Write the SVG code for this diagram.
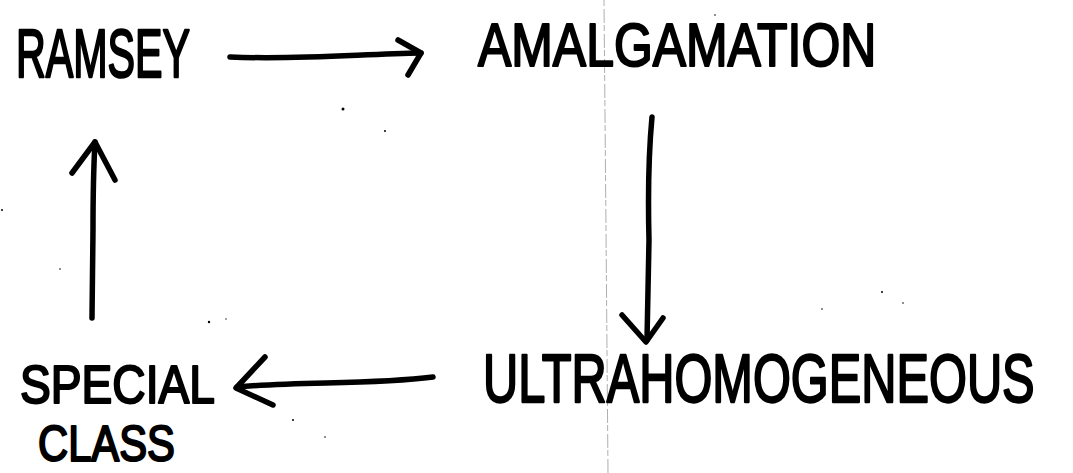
<svg xmlns="http://www.w3.org/2000/svg" width="1073" height="473" viewBox="0 0 1073 473">
  <style>
    .label { font-family: "Liberation Sans", Arial, sans-serif; fill: #000; stroke: #000; stroke-width: 2; stroke-linejoin: round; vector-effect: non-scaling-stroke; }
    .ink { fill: none; stroke: #000; stroke-width: 5.5; stroke-linecap: round; stroke-linejoin: round; }
    .speck { fill: #000; }
  </style>
  <rect width="1073" height="473" fill="#fff"/>
  <!-- paper fold line -->
  <path d="M604 0 L606 230 L608 473" fill="none" stroke="#9a9a9a" stroke-width="0.8" stroke-dasharray="6 3 14 2"/>
  <!-- scattered specks -->
  <g class="speck">
    <circle cx="343" cy="109" r="1.5"/>
    <circle cx="385" cy="131" r="1"/>
    <circle cx="2" cy="210" r="1"/>
    <circle cx="60" cy="269" r="0.8"/>
    <circle cx="209" cy="322" r="1.2"/>
    <circle cx="226" cy="319" r="0.7"/>
    <circle cx="293" cy="420" r="1"/>
    <circle cx="325" cy="437" r="0.8"/>
    <circle cx="822" cy="309" r="0.8"/>
    <circle cx="882" cy="292" r="1"/>
    <circle cx="903" cy="303" r="0.8"/>
    <circle cx="715" cy="15" r="0.8"/>
  </g>

  <!-- labels are narrowed horizontally to the hand-lettered proportions -->
  <g id="node-ramsey">
    <text class="label" transform="translate(16 77) scale(0.606 1)" font-size="68">RAMSEY</text>
  </g>
  <g id="node-amalgamation">
    <text class="label" transform="translate(478 66) scale(0.805 1)" font-size="62">AMALGAMATION</text>
  </g>
  <g id="node-ultrahomogeneous">
    <text class="label" transform="translate(483 402) scale(0.717 1)" font-size="68">ULTRAHOMOGENEOUS</text>
  </g>
  <g id="node-special-class">
    <text class="label" transform="translate(20 403) scale(0.855 1)" font-size="54">SPECIAL</text>
    <text class="label" transform="translate(38 461) scale(0.835 1)" font-size="50">CLASS</text>
  </g>

  <g id="connectors">
    <!-- RAMSEY to AMALGAMATION -->
    <path class="ink" d="M230 57 C300 60 360 54 421 53"/>
    <path class="ink" d="M398 40 L421 53 L408 75"/>
    <!-- AMALGAMATION to ULTRAHOMOGENEOUS -->
    <path class="ink" d="M652 117 C648 160 648 200 649 240 L647 340"/>
    <path class="ink" d="M622 315 L646 342 L663 318"/>
    <!-- ULTRAHOMOGENEOUS to SPECIAL CLASS -->
    <path class="ink" d="M433 377 C370 385 300 381 237 387"/>
    <path class="ink" d="M265 357 L236 388 L273 405"/>
    <!-- SPECIAL CLASS to RAMSEY -->
    <path class="ink" d="M92 318 L93 230 C93 190 94 160 95 142"/>
    <path class="ink" d="M72 173 L95 142 L115 180"/>
  </g>
</svg>
